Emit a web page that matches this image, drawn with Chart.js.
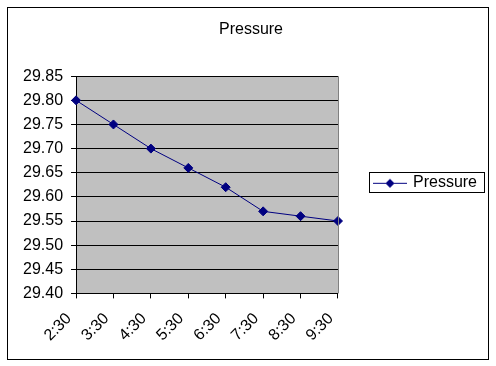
<!DOCTYPE html>
<html>
<head>
<meta charset="utf-8">
<script src="https://cdn.jsdelivr.net/npm/chart.js@4"></script>
<style>
  html, body { margin: 0; padding: 0; background: #fff; }
  #wrap { width: 496px; height: 366px; }
</style>
</head>
<body>
<div id="wrap"><canvas id="myChart" width="496" height="366"></canvas></div>
<script>
// data
const times = ['2:30', '3:30', '4:30', '5:30', '6:30', '7:30', '8:30', '9:30'];
const pressure = [29.80, 29.75, 29.70, 29.66, 29.62, 29.57, 29.56, 29.55];
const yTicks = [29.40, 29.45, 29.50, 29.55, 29.60, 29.65, 29.70, 29.75, 29.80, 29.85];

const NAVY = '#000080';
Chart.defaults.font.family = '"Liberation Sans", Arial, sans-serif';
Chart.defaults.font.size = 16;
Chart.defaults.color = '#000';

// legend icon: line with a diamond in the middle
const legendIcon = document.createElement('canvas');
legendIcon.width = 34;
legendIcon.height = 12;
(function () {
    const c = legendIcon.getContext('2d');
    c.strokeStyle = NAVY;
    c.lineWidth = 1;
    c.beginPath();
    c.moveTo(0, 6.5);
    c.lineTo(34, 6.5);
    c.stroke();
    c.fillStyle = NAVY;
    c.beginPath();
    c.moveTo(17, 2);
    c.lineTo(21.5, 6.5);
    c.lineTo(17, 11);
    c.lineTo(12.5, 6.5);
    c.closePath();
    c.fill();
})();

// grey plot area + outer frame + legend frame
const excelFrame = {
    id: 'excelFrame',
    beforeDraw(chart) {
        const { ctx, chartArea: { left, top, right, bottom } } = chart;
        ctx.save();
        ctx.fillStyle = '#fff';
        ctx.fillRect(0, 0, chart.width, chart.height);
        ctx.fillStyle = '#C0C0C0';
        ctx.fillRect(left, top, right - left, bottom - top);
        ctx.restore();
    },
    afterDraw(chart) {
        const { ctx, chartArea: { top, right, bottom } } = chart;
        ctx.save();
        ctx.strokeStyle = '#808080';
        ctx.lineWidth = 1;
        ctx.beginPath();
        ctx.moveTo(Math.round(right) + 0.5, top);
        ctx.lineTo(Math.round(right) + 0.5, bottom);
        ctx.stroke();

        ctx.strokeStyle = '#000';
        ctx.strokeRect(7.5, 7.5, 481, 352);

        const hb = chart.legend.legendHitBoxes[0];
        if (hb) {
            const cy = Math.round(hb.top + hb.height / 2);
            ctx.strokeRect(Math.round(hb.left) - 5.5, cy - 10.5, Math.round(hb.width) + 13, 20);
        }
        ctx.restore();
    }
};

const data = {
    labels: times,
    datasets: [{
        label: 'Pressure',
        data: pressure,
        borderColor: NAVY,
        backgroundColor: NAVY,
        borderWidth: 1,
        tension: 0,
        pointStyle: 'rectRot',
        pointRadius: 4.5,
        pointBorderWidth: 1,
        pointBackgroundColor: NAVY,
        pointBorderColor: NAVY,
        clip: false
    }]
};

const config = {
    type: 'line',
    data,
    options: {
        responsive: false,
        animation: false,
        layout: {
            padding: { left: 15, right: 9, top: 0, bottom: 10 }
        },
        scales: {
            x: {
                offset: false,
                grid: {
                    drawOnChartArea: false,
                    color: '#000',
                    tickLength: 5
                },
                border: { color: '#000' },
                ticks: {
                    minRotation: 45,
                    maxRotation: 45,
                    padding: 11,
                    labelOffset: -7,
                    color: '#000'
                }
            },
            y: {
                min: yTicks[0],
                max: yTicks[yTicks.length - 1],
                afterBuildTicks(axis) {
                    axis.ticks = yTicks.map(v => ({ value: v }));
                },
                grid: {
                    color: '#000',
                    tickLength: 5
                },
                border: { color: '#000' },
                ticks: {
                    padding: 8,
                    color: '#000',
                    callback: v => Number(v).toFixed(2)
                }
            }
        },
        plugins: {
            title: {
                display: true,
                text: 'Pressure',
                color: '#000',
                font: { size: 16, weight: 'normal' },
                padding: { top: 20, bottom: 37 }
            },
            legend: {
                position: 'right',
                maxWidth: 220,
                title: { display: true, text: '', font: { size: 8 }, padding: 0 },
                labels: {
                    usePointStyle: true,
                    pointStyle: legendIcon,
                    pointStyleWidth: 30,
                    padding: 37,
                    color: '#000',
                    font: { size: 16 }
                }
            },
            tooltip: { enabled: false }
        }
    },
    plugins: [excelFrame]
};

const myChart = new Chart(document.getElementById('myChart'), config);
</script>
</body>
</html>
